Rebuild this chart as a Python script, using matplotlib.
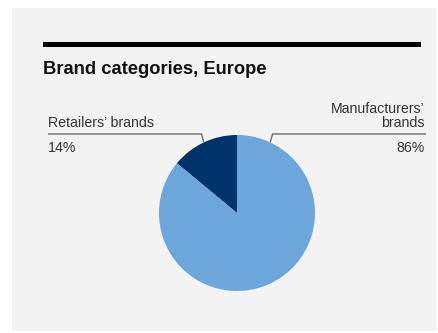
import numpy as np
import matplotlib.pyplot as plt
from matplotlib.patches import Rectangle

plt.rcParams['font.family'] = ['Liberation Sans', 'DejaVu Sans']

# brand share data
labels = ["Retailers\u2019 brands", "Manufacturers\u2019\nbrands"]
shares = [14, 86]
colors = ["#00336c", "#6ca6db"]

W, H = 439, 333
fig = plt.figure(figsize=(W / 100, H / 100), dpi=100, facecolor="white")


def fx(px):
    return px / W


def fy(py):
    return 1 - py / H


# grey card + black rule (kept behind the pie axes)
fig.patches.append(Rectangle((fx(12), fy(331)), fx(425), (331 - 8) / H,
                             transform=fig.transFigure, facecolor="#f3f3f3",
                             edgecolor="none", zorder=-2))
fig.patches.append(Rectangle((fx(43), fy(47)), fx(378), 5 / H,
                             transform=fig.transFigure, facecolor="black",
                             edgecolor="none", zorder=-1))
fig.text(fx(43), fy(74), "Brand categories, Europe", fontsize=13.2,
         fontweight="bold", color="#111111", va="baseline", ha="left")

# pie centred at (237, 213) px with radius 78 px
cx, cy, r = 237, 213, 78
ax = fig.add_axes([fx(cx - r), fy(cy + r), 2 * r / W, 2 * r / H])
ax.pie(shares, colors=colors, startangle=90, counterclock=True, radius=1,
       wedgeprops=dict(linewidth=0))
ax.set_xlim(-1, 1)
ax.set_ylim(-1, 1)
ax.set_aspect("auto")
ax.axis("off")

# leader lines: left one points at the middle of the retailers' slice,
# right one is its mirror image
mid = np.deg2rad(90 + shares[0] / sum(shares) * 360 / 2)
ex, ey = abs(np.cos(mid)), np.sin(mid)
line_y = 1.013
span = 2.423
lc = "#6e6e6e"
for sgn in (-1, 1):
    x0 = ex * sgn
    ax.plot([x0, x0 + 0.03 * sgn, span * sgn], [ey, line_y, line_y],
            color=lc, lw=1.0, clip_on=False, solid_capstyle="butt")

tc = "#333333"
fs = 10.2
ax.text(-span, 1.10, labels[0], ha="left", va="baseline", fontsize=fs, color=tc)
ax.text(-span, 0.78, f"{shares[0]}%", ha="left", va="baseline", fontsize=fs, color=tc)
ax.text(span - 0.02, 1.10, labels[1], ha="right", va="baseline", fontsize=fs,
        color=tc, multialignment="right", linespacing=1.05)
ax.text(span - 0.02, 0.78, f"{shares[1]}%", ha="right", va="baseline", fontsize=fs, color=tc)

fig.savefig("out.png", dpi=100, facecolor=fig.get_facecolor())
